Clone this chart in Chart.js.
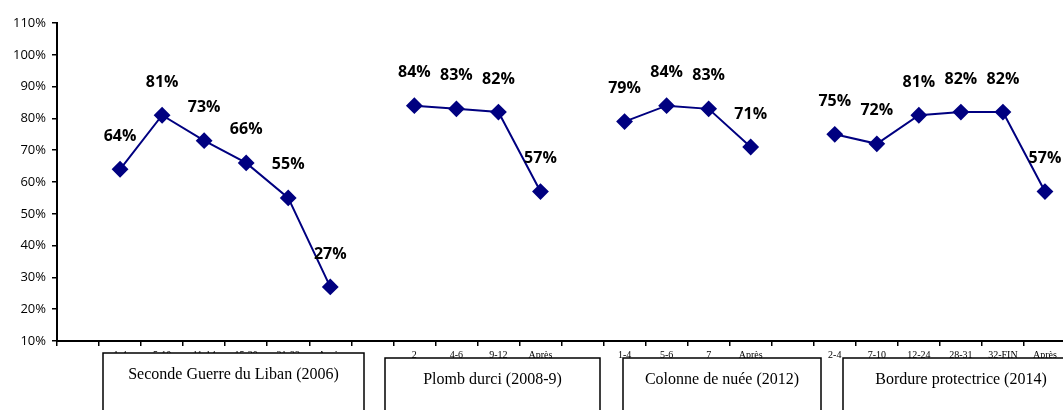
<!DOCTYPE html>
<html>
<head>
<meta charset="utf-8">
<script src="https://cdn.jsdelivr.net/npm/chart.js@4.4.1/dist/chart.umd.min.js"></script>
<style>
  html, body { margin: 0; padding: 0; background: #fff; overflow: hidden; }
  #wrap { width: 1075px; height: 410px; position: relative; }
</style>
</head>
<body>
<div id="wrap"><canvas id="c"></canvas></div>
<script>
// ── 데이터 ──
const periods = [
  '',
  '1-4', '5-10', '11-14', '15-20', '21-33', 'Après',
  '',
  '2', '4-6', '9-12', 'Après',
  '',
  '1-4', '5-6', '7', 'Après',
  '',
  '2-4', '7-10', '12-24', '28-31', '32-FIN', 'Après',
];
const support = [
  null,
  64, 81, 73, 66, 55, 27,
  null,
  84, 83, 82, 57,
  null,
  79, 84, 83, 71,
  null,
  75, 72, 81, 82, 82, 57,
];
const yTicks = [10, 20, 30, 40, 50, 60, 70, 80, 90, 100, 110];
const operations = [
  'Seconde Guerre du Liban (2006)',
  'Plomb durci (2008-9)',
  'Colonne de nuée (2012)',
  'Bordure protectrice (2014)',
];

const NAVY = '#000080';

// 점 위 퍼센트 라벨
const valueLabels = {
  id: 'valueLabels',
  afterDatasetsDraw(chart) {
    const { ctx } = chart;
    const meta = chart.getDatasetMeta(0);
    ctx.save();
    ctx.font = 'bold 16px "Open Sans", sans-serif';
    ctx.fillStyle = '#000';
    ctx.textAlign = 'center';
    ctx.textBaseline = 'middle';
    meta.data.forEach((pt, i) => {
      const v = support[i];
      if (v == null) return;
      ctx.fillText(v + '%', pt.x, pt.y - 33);
    });
    ctx.restore();
  },
};

// 아래쪽 작전 이름 상자
const opBoxes = {
  id: 'opBoxes',
  afterDraw(chart) {
    const { ctx } = chart;
    const boxes = [
      [103, 353, 261, 70, 375],
      [385, 358, 215, 70, 380],
      [623, 358, 198, 70, 380],
      [843, 358, 236, 70, 380],
    ];
    ctx.save();
    ctx.font = '16px "Liberation Serif", "Times New Roman", serif';
    ctx.textAlign = 'center';
    ctx.textBaseline = 'middle';
    boxes.forEach(([x, y, w, h, ty], i) => {
      ctx.fillStyle = '#fff';
      ctx.fillRect(x, y, w, h);
      ctx.strokeStyle = '#000';
      ctx.lineWidth = 1.5;
      ctx.strokeRect(x, y, w, h);
      ctx.fillStyle = '#000';
      ctx.fillText(operations[i], x + w / 2, ty);
    });
    ctx.restore();
  },
};

new Chart(document.getElementById('c'), {
  type: 'line',
  data: {
    labels: periods,
    datasets: [{
      data: support,
      borderColor: NAVY,
      backgroundColor: NAVY,
      borderWidth: 2,
      pointStyle: 'rectRot',
      pointRadius: 7,
      pointHoverRadius: 7,
      spanGaps: false,
      tension: 0,
    }],
  },
  options: {
    responsive: true,
    maintainAspectRatio: false,
    animation: false,
    events: [],
    layout: { padding: { top: 23, right: 0, left: 0, bottom: 0 } },
    plugins: { legend: { display: false }, tooltip: { enabled: false } },
    scales: {
      x: {
        type: 'category',
        offset: true,
        afterFit: s => { s.height = 69; },
        grid: { offset: true, drawOnChartArea: false, drawTicks: true, tickLength: 5, color: '#000', lineWidth: 1.5 },
        border: { display: true, color: '#000', width: 2 },
        ticks: {
          autoSkip: false,
          maxRotation: 0,
          minRotation: 0,
          padding: 3,
          color: '#000',
          font: { family: '"Liberation Serif", serif', size: 10 },
        },
      },
      y: {
        min: 10,
        max: 110,
        afterFit: s => { s.width = 57; },
        afterBuildTicks: s => { s.ticks = yTicks.map(v => ({ value: v })); },
        grid: { drawOnChartArea: false, drawTicks: true, tickLength: 5, color: '#000', lineWidth: 1.5 },
        border: { display: true, color: '#000', width: 2 },
        ticks: {
          padding: 6,
          color: '#000',
          font: { family: '"Open Sans", sans-serif', size: 13 },
          callback: v => v + '%',
        },
      },
    },
  },
  plugins: [valueLabels, opBoxes],
});
</script>
</body>
</html>
